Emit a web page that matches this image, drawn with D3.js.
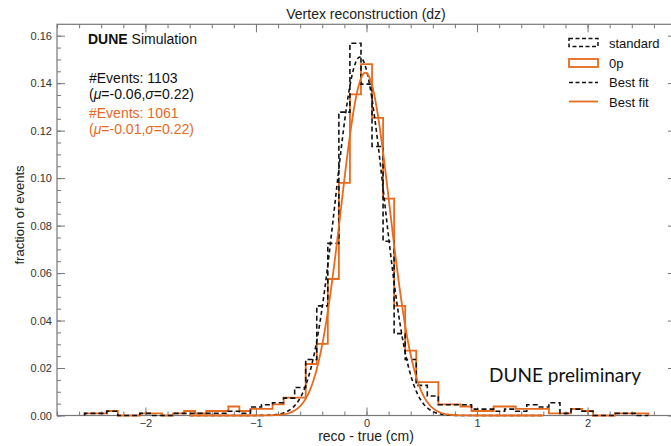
<!DOCTYPE html>
<html><head><meta charset="utf-8">
<script src="https://cdn.jsdelivr.net/npm/d3@7"></script>
<style>html,body{margin:0;padding:0;background:#fff;}svg{display:block;font-family:"Liberation Sans",Arial,Helvetica,sans-serif;}</style>
</head><body><svg id="c" width="671" height="446"></svg>
<script>
// ---- data ----
const binCenters = [-2.5,-2.4,-2.3,-2.2,-2.1,-2.0,-1.9,-1.8,-1.7,-1.6,-1.5,-1.4,-1.3,-1.2,-1.1,-1.0,-0.9,-0.8,-0.7,-0.6,-0.5,-0.4,-0.3,-0.2,-0.1,0.0,0.1,0.2,0.3,0.4,0.5,0.6,0.7,0.8,0.9,1.0,1.1,1.2,1.3,1.4,1.5,1.6,1.7,1.8,1.9,2.0,2.1,2.2,2.3,2.4,2.5];
const binWidth = 0.1;
const standardFrac = [0.0009,0.0009,0.0018,0,0,0.0009,0,0,0.0009,0.0009,0.0009,0.0009,0.0009,0.0018,0.0009,0.0036,0.0045,0.0054,0.0073,0.0118,0.0236,0.0462,0.0725,0.1278,0.1568,0.1396,0.1133,0.0734,0.0345,0.0236,0.0127,0.0082,0.0045,0.0045,0.0045,0.0027,0.0027,0.0018,0.0027,0.0018,0.0045,0.0036,0.0054,0.0009,0.0027,0.0018,0,0,0.0009,0.0009,0];
const zeroPFrac = [0.0009,0.0009,0.0019,0,0,0.0009,0.0009,0,0.0009,0.0019,0.0009,0.0019,0.0019,0.0038,0.0019,0.0028,0.0028,0.0047,0.0075,0.0075,0.0217,0.0302,0.0575,0.0980,0.1353,0.1480,0.1254,0.0914,0.0462,0.0273,0.0141,0.0141,0.0047,0.0047,0.0038,0.0019,0.0019,0.0038,0.0038,0.0028,0.0028,0.0028,0.0009,0.0009,0.0028,0.0019,0,0,0.0009,0.0009,0.0009];
const seriesNames = ["standard","0p"];
const eventCounts = [1103, 1061];
const fitMu = [-0.06, -0.01];
const fitSigma = [0.22, 0.22];
const fitAmp = [0.151, 0.1444];
const xMajorTicks = [-2,-1,0,1,2];
const yMajorTicks = [0,0.02,0.04,0.06,0.08,0.10,0.12,0.14,0.16];

// ---- layout ----
const svg = d3.select("#c");
const L = 57, R = 676, T = 24.3, B = 415.5;
const x = d3.scaleLinear().domain([-2.8, 2.8]).range([L, R]);
const y = d3.scaleLinear().domain([0, 0.1648]).range([B, T]);
const orange = "#e66b1e";
const axisCol = "#777";
const labelCol = "#333";

const xMinor = d3.range(-28, 29, 2).map(v => v / 10);
const yMinor = d3.range(0, 33).map(v => v * 0.005);

function styleAxis(g){
  g.select(".domain").remove();
  g.selectAll(".tick line").attr("stroke", axisCol).attr("stroke-width", 1);
  g.selectAll(".tick text").attr("fill", labelCol).attr("font-size", 11)
   .attr("font-family", '"Liberation Sans",Arial,sans-serif');
}
// bottom
svg.append("g").attr("transform", `translate(0,${B})`)
  .call(d3.axisBottom(x).tickValues(xMinor).tickSize(-4).tickFormat("")).call(styleAxis);
svg.append("g").attr("transform", `translate(0,${B})`)
  .call(d3.axisBottom(x).tickValues(xMajorTicks).tickSize(-8).tickPadding(4).tickFormat(d3.format("d"))).call(styleAxis);
// top
svg.append("g").attr("transform", `translate(0,${T})`)
  .call(d3.axisTop(x).tickValues(xMinor).tickSize(-4).tickFormat("")).call(styleAxis);
svg.append("g").attr("transform", `translate(0,${T})`)
  .call(d3.axisTop(x).tickValues(xMajorTicks).tickSize(-8).tickFormat("")).call(styleAxis);
// left
svg.append("g").attr("transform", `translate(${L},0)`)
  .call(d3.axisLeft(y).tickValues(yMinor).tickSize(-4).tickFormat("")).call(styleAxis);
svg.append("g").attr("transform", `translate(${L},0)`)
  .call(d3.axisLeft(y).tickValues(yMajorTicks).tickSize(-8).tickPadding(5).tickFormat(d3.format(".2f"))).call(styleAxis);
// right
svg.append("g").attr("transform", `translate(${R},0)`)
  .call(d3.axisRight(y).tickValues(yMinor).tickSize(-4).tickFormat("")).call(styleAxis);
svg.append("g").attr("transform", `translate(${R},0)`)
  .call(d3.axisRight(y).tickValues(yMajorTicks).tickSize(-8).tickFormat("")).call(styleAxis);

// frame
svg.append("rect").attr("x", L).attr("y", T).attr("width", R - L).attr("height", B - T)
  .attr("fill", "none").attr("stroke", axisCol).attr("stroke-width", 1.2);

// histograms
function stepPoints(vals){
  const pts = [[binCenters[0] - binWidth/2, 0]];
  vals.forEach((v, i) => pts.push([binCenters[i] - binWidth/2, v]));
  const last = binCenters[binCenters.length-1] + binWidth/2;
  pts.push([last, vals[vals.length-1]]);
  pts.push([last, 0]);
  return pts;
}
const stepLine = d3.line().x(d => x(d[0])).y(d => y(d[1])).curve(d3.curveStepAfter);
svg.append("path").attr("d", stepLine(stepPoints(zeroPFrac)))
  .attr("fill", "none").attr("stroke", orange).attr("stroke-width", 1.8);
svg.append("path").attr("d", stepLine(stepPoints(standardFrac)))
  .attr("fill", "none").attr("stroke", "#111").attr("stroke-width", 1.6).attr("stroke-dasharray", "5,3");

// fits
const fitX = d3.range(-1.6, 1.6001, 0.01);
const fitLine = d3.line().x(d => x(d[0])).y(d => y(d[1])).curve(d3.curveLinear);
function gaussPts(i){ return fitX.map(v => [v, fitAmp[i] * Math.exp(-0.5 * Math.pow((v - fitMu[i]) / fitSigma[i], 2))]); }
svg.append("path").attr("d", fitLine(gaussPts(0)))
  .attr("fill", "none").attr("stroke", "#111").attr("stroke-width", 1.6).attr("stroke-dasharray", "4,3");
svg.append("path").attr("d", fitLine(gaussPts(1)))
  .attr("fill", "none").attr("stroke", orange).attr("stroke-width", 1.8);

// title & axis labels
svg.append("text").attr("x", 366).attr("y", 19).attr("text-anchor", "middle")
  .attr("font-size", 14).attr("fill", "#222").text("Vertex reconstruction (dz)");
svg.append("text").attr("x", 366).attr("y", 441).attr("text-anchor", "middle")
  .attr("font-size", 14).attr("fill", "#222").text("reco - true (cm)");
svg.append("text").attr("transform", "translate(24,215) rotate(-90)").attr("text-anchor", "middle")
  .attr("font-size", 13).attr("fill", "#222").text("fraction of events");

// DUNE Simulation
const t1 = svg.append("text").attr("x", 88).attr("y", 44).attr("font-size", 14).attr("fill", "#111");
t1.append("tspan").attr("font-weight", "bold").text("DUNE");
t1.append("tspan").text(" Simulation");

function statText(yy, i, col){
  svg.append("text").attr("x", 89).attr("y", yy).attr("font-size", 14).attr("fill", col)
    .text("#Events: " + eventCounts[i]);
  const t = svg.append("text").attr("x", 89).attr("y", yy + 16).attr("font-size", 14).attr("fill", col);
  t.append("tspan").text("(");
  t.append("tspan").attr("font-style", "italic").text("\u03bc");
  t.append("tspan").text("=" + fitMu[i].toFixed(2) + ",");
  t.append("tspan").attr("font-style", "italic").text("\u03c3");
  t.append("tspan").text("=" + fitSigma[i].toFixed(2) + ")");
}
statText(83, 0, "#111");
statText(118, 1, orange);

// legend
const lx = 569, lw = 29, tx = 609;
svg.append("rect").attr("x", lx).attr("y", 38.5).attr("width", lw).attr("height", 8)
  .attr("fill", "none").attr("stroke", "#111").attr("stroke-width", 1.5).attr("stroke-dasharray", "4,2.5");
svg.append("text").attr("x", tx).attr("y", 47.5).attr("font-size", 13).attr("fill", "#111").text(seriesNames[0]);
svg.append("rect").attr("x", lx).attr("y", 59).attr("width", lw).attr("height", 8)
  .attr("fill", "none").attr("stroke", orange).attr("stroke-width", 1.8);
svg.append("text").attr("x", tx).attr("y", 67.5).attr("font-size", 13).attr("fill", "#111").text(seriesNames[1]);
svg.append("line").attr("x1", lx).attr("x2", lx + lw).attr("y1", 82.5).attr("y2", 82.5)
  .attr("stroke", "#111").attr("stroke-width", 1.5).attr("stroke-dasharray", "4,2.5");
svg.append("text").attr("x", tx).attr("y", 87).attr("font-size", 13).attr("fill", "#111").text("Best fit");
svg.append("line").attr("x1", lx).attr("x2", lx + lw).attr("y1", 101.5).attr("y2", 101.5)
  .attr("stroke", orange).attr("stroke-width", 1.8);
svg.append("text").attr("x", tx).attr("y", 106.5).attr("font-size", 13).attr("fill", "#111").text("Best fit");

// DUNE preliminary
svg.append("text").attr("x", 489).attr("y", 382).attr("font-size", 19)
  .attr("font-family", "Lato, 'Open Sans', sans-serif").attr("fill", "#111").text("DUNE preliminary");
</script></body></html>
